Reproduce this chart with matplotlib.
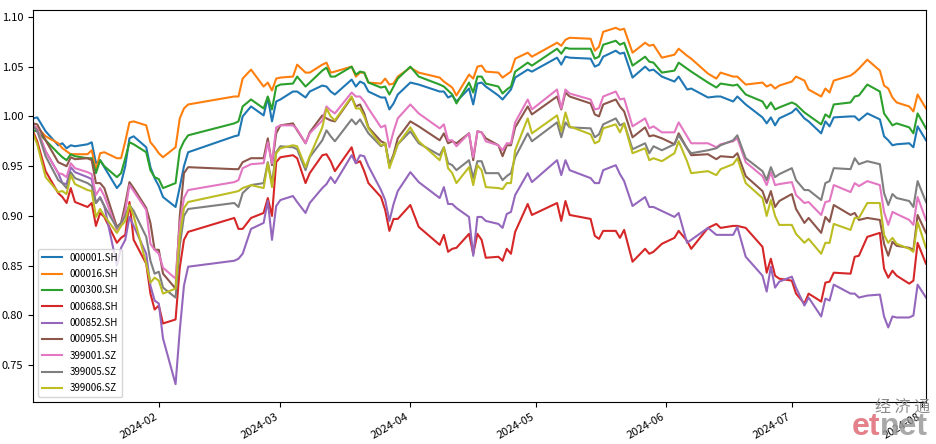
import pandas as pd
import matplotlib
matplotlib.use('Agg')
import matplotlib.pyplot as plt

plt.rcParams['font.family'] = ['Noto Sans CJK SC', 'DejaVu Sans']
plt.rcParams['font.size'] = 8

# trading days (2024)
dates = [
    '01-02', '01-03', '01-05', '01-08', '01-09', '01-10', '01-11', '01-12', '01-15', '01-16',
    '01-17', '01-18', '01-19', '01-22', '01-23', '01-24', '01-25', '01-26', '01-29', '01-30',
    '01-31', '02-01', '02-02', '02-05', '02-06', '02-07', '02-08',
    '02-19', '02-20', '02-21', '02-23', '02-26', '02-27', '02-28', '02-29',
    '03-01', '03-04', '03-05', '03-07', '03-08', '03-11', '03-12', '03-13', '03-14', '03-18',
    '03-19', '03-20', '03-21', '03-22', '03-25', '03-26', '03-27', '03-28', '03-29',
    '04-01', '04-03', '04-08', '04-09', '04-10', '04-11', '04-12', '04-15', '04-16', '04-17',
    '04-18', '04-19', '04-22', '04-23', '04-24', '04-25', '04-26', '04-29', '04-30',
    '05-06', '05-07', '05-08', '05-09', '05-14', '05-15', '05-16', '05-17', '05-20', '05-21',
    '05-22', '05-24', '05-27', '05-28', '05-29', '05-31',
    '06-03', '06-04', '06-06', '06-07', '06-11', '06-13', '06-14', '06-17', '06-18', '06-20',
    '06-24', '06-25', '06-26', '06-27', '06-28',
    '07-01', '07-02', '07-04', '07-05', '07-08', '07-09', '07-10', '07-11', '07-15', '07-16',
    '07-17', '07-19', '07-22', '07-23', '07-24', '07-25', '07-26', '07-29', '07-30', '07-31',
    '08-02']

sh000001 = [
    0.998, 0.999, 0.985, 0.971, 0.973, 0.968, 0.971, 0.970, 0.972, 0.974, 0.953, 0.956, 0.949, 0.928,
    0.933, 0.950, 0.978, 0.980, 0.969, 0.949, 0.938, 0.930, 0.919, 0.909, 0.929, 0.950, 0.964,
    0.980, 0.981, 1.000, 1.010, 1.001, 1.019, 0.995, 1.015,
    1.017, 1.025, 1.025, 1.019, 1.025, 1.031, 1.030, 1.025, 1.022, 1.037, 1.030, 1.035, 1.033, 1.025,
    1.019, 1.019, 1.007, 1.013, 1.022,
    1.034, 1.032, 1.025, 1.025, 1.019, 1.021, 1.015, 1.028, 1.012, 1.033, 1.034, 1.030, 1.021, 1.017,
    1.022, 1.027, 1.039, 1.047, 1.045,
    1.059, 1.052, 1.060, 1.059, 1.058, 1.050, 1.052, 1.060, 1.066, 1.063, 1.064, 1.039, 1.050, 1.046,
    1.047, 1.040,
    1.035, 1.040, 1.027, 1.028, 1.019, 1.020, 1.020, 1.015, 1.020, 1.012, 0.999, 0.993, 0.999, 0.991,
    0.998,
    1.004, 1.008, 0.998, 0.995, 0.983, 0.995, 0.990, 0.999, 1.000, 1.000, 0.996, 1.003, 0.997, 0.980,
    0.976, 0.971, 0.972, 0.973, 0.969, 0.990, 0.976]

sh000016 = [
    0.990, 0.989, 0.980, 0.973, 0.968, 0.965, 0.962, 0.962, 0.962, 0.966, 0.946, 0.963, 0.964, 0.958,
    0.958, 0.975, 0.994, 0.995, 0.991, 0.974, 0.969, 0.963, 0.959, 0.969, 0.998, 1.008, 1.012,
    1.020, 1.020, 1.038, 1.047, 1.030, 1.034, 1.026, 1.038,
    1.039, 1.040, 1.052, 1.044, 1.044, 1.052, 1.054, 1.044, 1.045, 1.050, 1.040, 1.044, 1.044, 1.034,
    1.033, 1.038, 1.032, 1.033, 1.040,
    1.049, 1.044, 1.039, 1.035, 1.032, 1.029, 1.021, 1.042, 1.038, 1.050, 1.051, 1.045, 1.044, 1.039,
    1.042, 1.045, 1.058, 1.064, 1.060,
    1.074, 1.071, 1.077, 1.079, 1.078, 1.066, 1.070, 1.085, 1.089, 1.087, 1.088, 1.064, 1.074, 1.071,
    1.072, 1.059,
    1.062, 1.068, 1.061, 1.058, 1.043, 1.038, 1.044, 1.040, 1.040, 1.032, 1.034, 1.030, 1.032, 1.028,
    1.031,
    1.035, 1.040, 1.036, 1.027, 1.020, 1.028, 1.024, 1.036, 1.041, 1.044, 1.048, 1.057, 1.046, 1.031,
    1.028, 1.019, 1.014, 1.010, 1.005, 1.022, 1.008]

sh000300 = [
    0.986, 0.985, 0.976, 0.963, 0.959, 0.956, 0.962, 0.960, 0.958, 0.958, 0.943, 0.956, 0.950, 0.939,
    0.943, 0.958, 0.974, 0.972, 0.964, 0.946, 0.939, 0.937, 0.928, 0.933, 0.966, 0.975, 0.981,
    0.993, 0.995, 1.010, 1.017, 1.008, 1.020, 1.007, 1.030,
    1.032, 1.033, 1.040, 1.030, 1.034, 1.046, 1.049, 1.040, 1.040, 1.050, 1.042, 1.045, 1.044, 1.034,
    1.029, 1.030, 1.022, 1.030, 1.038,
    1.050, 1.040, 1.032, 1.030, 1.026, 1.022, 1.013, 1.034, 1.024, 1.040, 1.040, 1.033, 1.030, 1.023,
    1.027, 1.030, 1.045, 1.054, 1.051,
    1.068, 1.063, 1.069, 1.068, 1.068, 1.058, 1.060, 1.072, 1.076, 1.072, 1.074, 1.051, 1.060, 1.055,
    1.054, 1.044,
    1.046, 1.054, 1.048, 1.045, 1.034, 1.029, 1.033, 1.031, 1.032, 1.022, 1.015, 1.008, 1.014, 1.007,
    1.009,
    1.014, 1.012, 1.004, 1.001, 0.992, 1.002, 0.999, 1.012, 1.014, 1.020, 1.021, 1.032, 1.025, 1.003,
    0.997, 0.991, 0.993, 0.989, 0.983, 1.003, 0.988]

sh000688 = [
    0.985, 0.975, 0.945, 0.923, 0.919, 0.913, 0.928, 0.914, 0.909, 0.913, 0.890, 0.903, 0.899, 0.873,
    0.878, 0.881, 0.914, 0.876, 0.852, 0.822, 0.806, 0.810, 0.792, 0.796, 0.848, 0.876, 0.884,
    0.898, 0.887, 0.887, 0.898, 0.903, 0.918, 0.900, 0.954,
    0.959, 0.961, 0.958, 0.933, 0.943, 0.961, 0.962, 0.955, 0.945, 0.969, 0.953, 0.955, 0.945, 0.933,
    0.919, 0.906, 0.885, 0.897, 0.897,
    0.911, 0.889, 0.871, 0.881, 0.864, 0.867, 0.868, 0.882, 0.862, 0.882, 0.876, 0.858, 0.859, 0.855,
    0.867, 0.862, 0.884, 0.912, 0.901,
    0.913, 0.895, 0.915, 0.901, 0.897, 0.880, 0.877, 0.885, 0.885, 0.878, 0.886, 0.854, 0.867, 0.862,
    0.864, 0.872,
    0.878, 0.885, 0.875, 0.867, 0.888, 0.892, 0.888, 0.890, 0.890, 0.888, 0.869, 0.843, 0.857, 0.840,
    0.837,
    0.835, 0.822, 0.812, 0.822, 0.814, 0.833, 0.834, 0.843, 0.842, 0.859, 0.860, 0.879, 0.883, 0.847,
    0.838, 0.845, 0.840, 0.832, 0.835, 0.873, 0.852]

sh000852 = [
    0.993, 0.985, 0.965, 0.943, 0.933, 0.932, 0.949, 0.944, 0.939, 0.937, 0.913, 0.919, 0.910, 0.850,
    0.868, 0.876, 0.899, 0.890, 0.862, 0.830, 0.815, 0.812, 0.777, 0.731, 0.785, 0.830, 0.849,
    0.855, 0.857, 0.862, 0.887, 0.893, 0.915, 0.876, 0.910,
    0.916, 0.920, 0.914, 0.903, 0.913, 0.928, 0.932, 0.939, 0.933, 0.961, 0.953, 0.961, 0.960, 0.950,
    0.926, 0.916, 0.895, 0.912, 0.925,
    0.944, 0.934, 0.918, 0.929, 0.912, 0.912, 0.908, 0.899, 0.860, 0.899, 0.899, 0.895, 0.892, 0.888,
    0.902, 0.904, 0.921, 0.943, 0.934,
    0.956, 0.941, 0.956, 0.946, 0.938, 0.933, 0.933, 0.946, 0.951, 0.942, 0.935, 0.910, 0.919, 0.909,
    0.909, 0.905,
    0.899, 0.903, 0.873, 0.876, 0.888, 0.881, 0.881, 0.881, 0.889, 0.859, 0.840, 0.824, 0.849, 0.828,
    0.834,
    0.839, 0.828, 0.810, 0.818, 0.799, 0.817, 0.815, 0.831, 0.822, 0.822, 0.818, 0.820, 0.821, 0.799,
    0.788, 0.799, 0.798, 0.798, 0.800, 0.831, 0.818]

sh000905 = [
    0.993, 0.992, 0.976, 0.954, 0.952, 0.950, 0.959, 0.957, 0.958, 0.956, 0.933, 0.933, 0.928, 0.889,
    0.893, 0.912, 0.934, 0.928, 0.908, 0.893, 0.866, 0.866, 0.842, 0.827, 0.900, 0.943, 0.949,
    0.947, 0.947, 0.954, 0.958, 0.958, 0.978, 0.951, 0.983,
    0.991, 0.993, 0.986, 0.973, 0.984, 1.001, 0.998, 0.996, 0.995, 1.019, 1.010, 1.012, 1.003, 0.989,
    0.975, 0.973, 0.951, 0.962, 0.978,
    0.995, 0.990, 0.976, 0.983, 0.973, 0.975, 0.973, 0.983, 0.956, 0.985, 0.984, 0.978, 0.971, 0.960,
    0.971, 0.971, 0.989, 1.010, 1.002,
    1.020, 1.007, 1.024, 1.020, 1.013, 1.002, 1.000, 1.012, 1.017, 1.010, 1.005, 0.979, 0.989, 0.980,
    0.981, 0.978,
    0.972, 0.983, 0.968, 0.961, 0.962, 0.957, 0.960, 0.959, 0.963, 0.940, 0.925, 0.913, 0.925, 0.909,
    0.915,
    0.922, 0.907, 0.893, 0.898, 0.883, 0.899, 0.894, 0.911, 0.901, 0.903, 0.896, 0.898, 0.896, 0.872,
    0.860, 0.874, 0.870, 0.868, 0.866, 0.901, 0.883]

sz399001 = [
    0.991, 0.988, 0.965, 0.943, 0.942, 0.939, 0.953, 0.948, 0.944, 0.942, 0.921, 0.928, 0.920, 0.886,
    0.890, 0.905, 0.931, 0.925, 0.906, 0.872, 0.866, 0.862, 0.848, 0.837, 0.892, 0.918, 0.926,
    0.934, 0.936, 0.948, 0.952, 0.953, 0.974, 0.953, 0.989,
    0.991, 0.991, 0.987, 0.973, 0.983, 0.996, 1.010, 1.006, 1.003, 1.024, 1.020, 1.020, 1.015, 1.008,
    0.989, 0.991, 0.969, 0.985, 0.998,
    1.012, 1.003, 0.988, 0.992, 0.976, 0.976, 0.970, 0.983, 0.959, 0.985, 0.984, 0.975, 0.971, 0.966,
    0.973, 0.973, 0.994, 1.017, 1.007,
    1.027, 1.008, 1.027, 1.023, 1.017, 1.007, 1.008, 1.020, 1.025, 1.017, 1.018, 0.990, 0.998, 0.988,
    0.990, 0.984,
    0.984, 0.994, 0.980, 0.973, 0.973, 0.969, 0.972, 0.975, 0.978, 0.954, 0.940, 0.931, 0.944, 0.931,
    0.932,
    0.934, 0.921, 0.913, 0.914, 0.901, 0.914, 0.915, 0.931, 0.924, 0.933, 0.930, 0.935, 0.931, 0.904,
    0.891, 0.904, 0.902, 0.896, 0.891, 0.919, 0.896]

sz399005 = [
    0.990, 0.986, 0.960, 0.936, 0.933, 0.928, 0.944, 0.938, 0.933, 0.930, 0.913, 0.918, 0.910, 0.888,
    0.893, 0.900, 0.911, 0.905, 0.879, 0.855, 0.842, 0.844, 0.828, 0.818, 0.870, 0.900, 0.907,
    0.913, 0.909, 0.923, 0.931, 0.933, 0.954, 0.933, 0.964,
    0.970, 0.969, 0.967, 0.946, 0.959, 0.976, 0.986, 0.980, 0.975, 0.997, 0.992, 0.997, 0.990, 0.983,
    0.970, 0.973, 0.951, 0.960, 0.972,
    0.985, 0.973, 0.961, 0.969, 0.953, 0.951, 0.946, 0.956, 0.938, 0.955, 0.955, 0.943, 0.943, 0.936,
    0.940, 0.943, 0.959, 0.983, 0.975,
    0.994, 0.979, 0.994, 0.989, 0.988, 0.979, 0.982, 0.992, 0.998, 0.991, 0.993, 0.967, 0.973, 0.963,
    0.970, 0.966,
    0.972, 0.981, 0.968, 0.963, 0.966, 0.968, 0.971, 0.976, 0.981, 0.958, 0.945, 0.936, 0.949, 0.939,
    0.942,
    0.948, 0.936, 0.926, 0.926, 0.916, 0.933, 0.935, 0.948, 0.947, 0.958, 0.952, 0.955, 0.952, 0.923,
    0.911, 0.922, 0.918, 0.915, 0.909, 0.935, 0.914]

sz399006 = [
    0.983, 0.972, 0.939, 0.924, 0.925, 0.922, 0.941, 0.932, 0.926, 0.925, 0.899, 0.907, 0.900, 0.883,
    0.890, 0.895, 0.911, 0.900, 0.852, 0.833, 0.838, 0.835, 0.822, 0.827, 0.880, 0.908, 0.914,
    0.924, 0.925, 0.928, 0.931, 0.928, 0.953, 0.929, 0.963,
    0.968, 0.971, 0.970, 0.949, 0.960, 0.989, 1.008, 1.000, 0.996, 1.020, 1.008, 1.008, 1.000, 0.988,
    0.971, 0.973, 0.948, 0.960, 0.972,
    0.989, 0.975, 0.956, 0.969, 0.948, 0.943, 0.933, 0.949, 0.931, 0.951, 0.946, 0.929, 0.928, 0.927,
    0.933, 0.933, 0.966, 0.998, 0.983,
    1.001, 0.985, 1.004, 0.990, 0.982, 0.973, 0.975, 0.988, 0.992, 0.984, 0.993, 0.963, 0.968, 0.956,
    0.958, 0.955,
    0.963, 0.975, 0.955, 0.943, 0.945, 0.941, 0.947, 0.952, 0.958, 0.933, 0.918, 0.900, 0.916, 0.900,
    0.891,
    0.891, 0.882, 0.873, 0.877, 0.862, 0.873, 0.873, 0.892, 0.886, 0.898, 0.898, 0.913, 0.913, 0.881,
    0.873, 0.878, 0.872, 0.867, 0.864, 0.894, 0.868]

df = pd.DataFrame({
    '000001.SH': sh000001,
    '000016.SH': sh000016,
    '000300.SH': sh000300,
    '000688.SH': sh000688,
    '000852.SH': sh000852,
    '000905.SH': sh000905,
    '399001.SZ': sz399001,
    '399005.SZ': sz399005,
    '399006.SZ': sz399006,
}, index=pd.to_datetime(['2024-' + d for d in dates]))

fig = plt.figure(figsize=(9.36, 4.44), dpi=100)
ax = fig.add_axes([0.0353, 0.0946, 0.9540, 0.8829])

for col in df.columns:
    ax.plot(df.index, df[col], label=col, linewidth=1.5)

ax.margins(x=0)
ax.legend(loc='lower left', fontsize=7, labelspacing=0.65, handlelength=2.1)
fig.autofmt_xdate(bottom=0.0946)
ax.set_position([0.0353, 0.0946, 0.9540, 0.8829])

# etnet watermark
fig.text(0.994, 0.081, '经 济 通', ha='right', va='center', fontsize=11.5,
         color='#8a8a8a', family=['Noto Sans CJK SC'])
fig.text(0.9405, 0.004, 'et', ha='right', va='bottom', fontsize=23, fontweight='bold',
         color='#e06a76', alpha=0.85, family=['Liberation Sans'])
fig.text(0.9405, 0.004, 'net', ha='left', va='bottom', fontsize=23, fontweight='bold',
         color='#9a9a9a', alpha=0.85, family=['Liberation Sans'])

fig.savefig('out.png', dpi=100)
